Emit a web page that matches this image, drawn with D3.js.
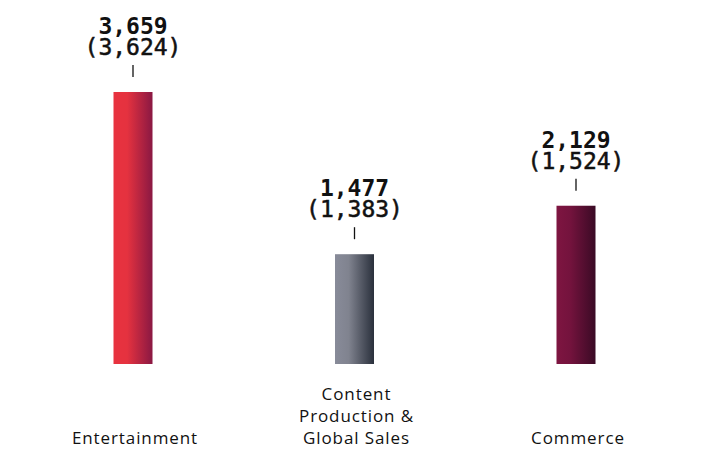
<!DOCTYPE html>
<html>
<head>
<meta charset="utf-8">
<script src="https://cdn.jsdelivr.net/npm/d3@7"></script>
<style>
  html, body { margin: 0; padding: 0; background: #fff; }
  svg { display: block; }
</style>
</head>
<body>
<svg id="chart" width="707" height="468"></svg>
<script>
// Segment revenue: current year and prior year (in parentheses)
const categories = ["Entertainment", "Content Production & Global Sales", "Commerce"];
const categoryLines = [["Entertainment"], ["Content", "Production &", "Global Sales"], ["Commerce"]];
const currentValues = [3659, 1477, 2129];
const priorValues = [3624, 1383, 1524];
const gradientStops = [
  ["#e8323f", "#e5323f", "#8a1843"],
  ["#888b99", "#80838f", "#2a303c"],
  ["#7e1541", "#74133d", "#3a0a25"]
];

const svg = d3.select("#chart");
const baseY = 364;
const barW = 39;

const x = d3.scalePoint().domain(categories).range([133, 576]);
const y = d3.scaleLinear().domain([0, 3659]).range([baseY, 92]);
const fmt = d3.format(",");

const defs = svg.append("defs");
categories.forEach((c, i) => {
  const g = defs.append("linearGradient")
    .attr("id", "grad" + i)
    .attr("x1", "0%").attr("x2", "100%").attr("y1", "0%").attr("y2", "0%");
  g.append("stop").attr("offset", "0%").attr("stop-color", gradientStops[i][0]);
  g.append("stop").attr("offset", "35%").attr("stop-color", gradientStops[i][1]);
  g.append("stop").attr("offset", "100%").attr("stop-color", gradientStops[i][2]);
});

const groups = svg.selectAll("g.bar")
  .data(categories.map((c, i) => ({ c, i, cur: currentValues[i], prev: priorValues[i] })))
  .join("g").attr("class", "bar");

groups.append("rect")
  .attr("x", d => x(d.c) - barW / 2)
  .attr("y", d => y(d.cur))
  .attr("width", barW)
  .attr("height", d => baseY - y(d.cur))
  .attr("fill", d => `url(#grad${d.i})`);

// leader tick above each bar
groups.append("line")
  .attr("x1", d => x(d.c)).attr("x2", d => x(d.c))
  .attr("y1", d => y(d.cur) - 27).attr("y2", d => y(d.cur) - 15)
  .attr("stroke", "#111").attr("stroke-width", 1.3);

const mono = "'DejaVu Sans Mono', 'Liberation Mono', monospace";

// value label: current (bold) over prior (in parentheses)
const vl = groups.append("text")
  .attr("text-anchor", "middle")
  .attr("font-family", mono)
  .attr("font-size", 23)
  .attr("fill", "#111");
vl.append("tspan")
  .attr("x", d => x(d.c))
  .attr("y", d => y(d.cur) - 58)
  .attr("font-weight", "bold")
  .text(d => fmt(d.cur));
vl.append("tspan")
  .attr("x", d => x(d.c))
  .attr("y", d => y(d.cur) - 37)
  .attr("stroke", "#111")
  .attr("stroke-width", 0.5)
  .text(d => "(" + fmt(d.prev) + ")");

// category labels, bottom-aligned
groups.each(function(d) {
  const lines = categoryLines[d.i];
  const t = d3.select(this).append("text")
    .attr("text-anchor", "middle")
    .attr("font-family", "'Open Sans', sans-serif")
    .attr("font-size", 17)
    .attr("font-weight", 500)
    .attr("letter-spacing", 0.9)
    .attr("fill", "#111");
  lines.forEach((ln, k) => {
    t.append("tspan")
      .attr("x", x(d.c) + 2)
      .attr("y", 444 - (lines.length - 1 - k) * 22)
      .text(ln);
  });
});
</script>
</body>
</html>
